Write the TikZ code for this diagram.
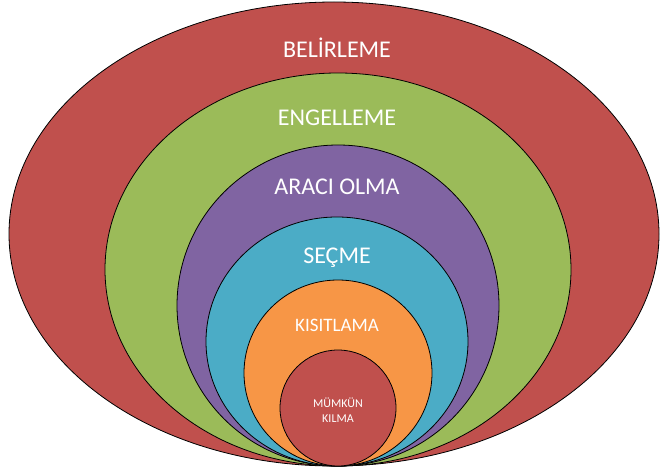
\documentclass[tikz,border=0pt]{standalone}
\usepackage{fontspec}
\setmainfont{Carlito}
\usepackage{tikz}
\usetikzlibrary{positioning}
\definecolor{ringred}{HTML}{C0504D}
\definecolor{ringgreen}{HTML}{9BBB59}
\definecolor{ringpurple}{HTML}{8064A2}
\definecolor{ringcyan}{HTML}{4BACC6}
\definecolor{ringorange}{HTML}{F79646}
\tikzstyle{ring}=[draw=black, line width=0.8pt]
\tikzstyle{label}=[text=white, font=\fontsize{24}{28}\selectfont, text centered]
\tikzstyle{smalllabel}=[text=white, font=\fontsize{12}{15.5}\selectfont, align=center]

\begin{document}
\begin{tikzpicture}[x=1pt, y=1pt]
	\useasboundingbox (0,0) rectangle (662,475);

	\draw[ring, fill=ringred] (334,241) ellipse (325 and 232);
	\draw[ring, fill=ringgreen] (338,205.5) ellipse (233 and 196.5);
	\draw[ring, fill=ringpurple] (338,169.5) ellipse (161 and 160.5);
	\draw[ring, fill=ringcyan] (337,133.5) ellipse (131 and 124.5);
	\draw[ring, fill=ringorange] (338,102) ellipse (94 and 93);
	\draw[ring, fill=ringred] (338,67) ellipse (58 and 58);

	\node (Belirleme) [label] at (337,427) {BELİRLEME};

	\node (Engelleme) [label] at (337,357) {ENGELLEME};

	\node (AraciOlma) [label] at (337,288) {ARACI OLMA};

	\node (Secme) [label] at (337,217) {SEÇME};

	\node (Kisitlama) [label, font=\fontsize{19}{22}\selectfont] at (337,150) {KISITLAMA};

	\node (MumkunKilma) [smalllabel] at (338,65) {MÜMKÜN\\KILMA};

\end{tikzpicture}
\end{document}
